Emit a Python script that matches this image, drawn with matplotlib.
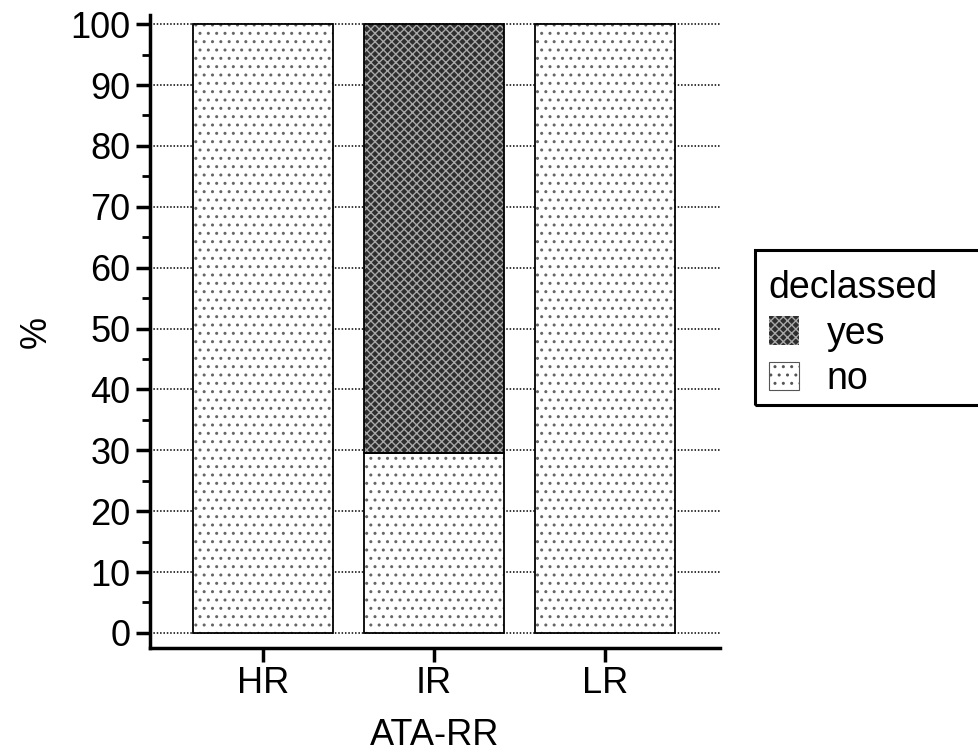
import matplotlib
matplotlib.use("Agg")
import matplotlib.pyplot as plt
from matplotlib.patches import Patch, Rectangle
import numpy as np

# data
groups = ["HR", "IR", "LR"]
no_pct = [100, 29.6, 100]
yes_pct = [0, 70.4, 0]

plt.rcParams['font.family'] = ['Liberation Sans', 'DejaVu Sans']
plt.rcParams['hatch.linewidth'] = 1.0

fig = plt.figure(figsize=(9.79, 7.51), dpi=100)
ax = fig.add_axes([0.153, 0.137, 0.582, 0.843])

x = np.arange(len(groups))
w = 0.82

# dotted grid behind bars
for v in range(0, 101, 10):
    ax.axhline(v, color='black', linestyle=(0, (1, 1.2)), linewidth=1.1, zorder=0)

# "no" part: white with sparse dots
ax.bar(x, no_pct, w, color='white', edgecolor='#666666', hatch='..', linewidth=0, zorder=2)
ax.bar(x, no_pct, w, fill=False, edgecolor='black', linewidth=1.3, zorder=3)
# "yes" part: dark crosshatch
ax.bar(x, yes_pct, w, bottom=no_pct, color='#2e2e2e', edgecolor='#a8a8a8',
       hatch='xxxx', linewidth=0, zorder=2)
for i in range(len(groups)):
    if yes_pct[i] > 0:
        ax.bar(x[i], yes_pct[i], w, bottom=no_pct[i], fill=False,
               edgecolor='black', linewidth=1.3, zorder=3)

ax.set_xlim(-0.66, 2.67)
ax.set_ylim(-2.5, 101.5)
ax.set_xticks(x)
ax.set_xticklabels(groups)
ax.set_yticks(range(0, 101, 10))
ax.set_yticks(range(5, 100, 10), minor=True)

for s in ['top', 'right']:
    ax.spines[s].set_visible(False)
for s in ['left', 'bottom']:
    ax.spines[s].set_linewidth(2.5)
ax.tick_params(axis='both', which='major', length=10, width=2.5, labelsize=26, direction='out')
ax.tick_params(axis='y', which='minor', length=6, width=2)
ax.tick_params(axis='x', pad=3)
ax.tick_params(axis='y', pad=4)

ax.set_ylabel('%', fontsize=26, labelpad=12)
ax.set_xlabel('ATA-RR', fontsize=26, labelpad=12)

# legend (frame drawn separately so it runs off the right edge like the reference)
handles = [Patch(facecolor='#2e2e2e', edgecolor='#a8a8a8', hatch='xxxx', linewidth=0),
           Patch(facecolor='white', edgecolor='#555555', hatch='..', linewidth=0.8)]
leg = fig.legend(handles, ['yes', 'no'], title='declassed', loc='upper left',
                 bbox_to_anchor=(0.785, 0.64), borderaxespad=0, fontsize=27,
                 title_fontsize=27, frameon=False, handlelength=0.8, handleheight=0.8,
                 handletextpad=0.75, borderpad=0.0, labelspacing=0.25, alignment='left')
fig.patches.append(Rectangle((755 / 979, 1 - 405 / 751), 0.3, 155 / 751,
                             transform=fig.transFigure, fill=False,
                             edgecolor='black', linewidth=2.2))

fig.savefig('out.png', dpi=100)
